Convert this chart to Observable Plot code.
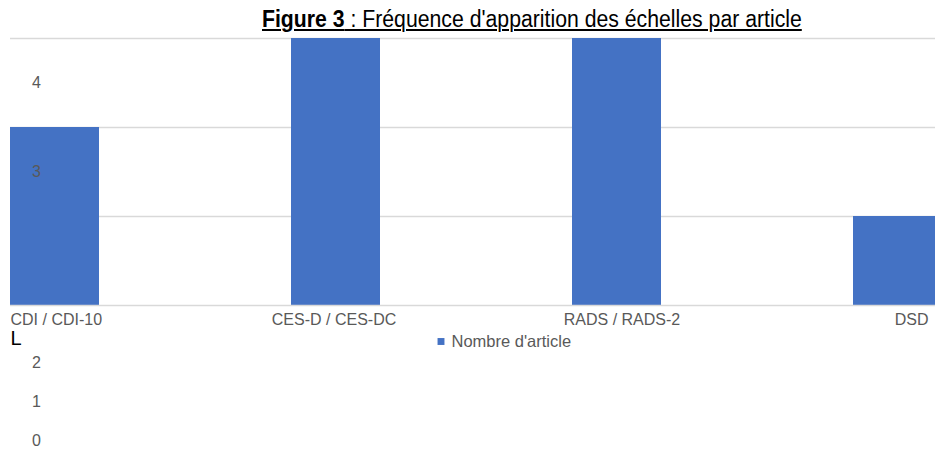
<!DOCTYPE html>
<html><head><meta charset="utf-8">
<script src="https://cdn.jsdelivr.net/npm/d3@7"></script>
<script src="https://cdn.jsdelivr.net/npm/@observablehq/plot@0.6"></script>
<style>
body{margin:0;background:#fff;}
#wrap{position:relative;width:935px;height:450px;overflow:hidden;background:#fff;}
#title{height:37px;white-space:nowrap;font-family:"Liberation Sans Narrow","Arial Narrow","Liberation Sans",sans-serif;font-size:23px;color:#000;}
#title span.t{display:inline-block;position:relative;left:262px;top:6px;transform:scaleX(0.923);transform-origin:0 0;text-decoration:underline;text-decoration-thickness:2px;text-underline-offset:2px;}
#chart svg{display:block;}
</style></head>
<body>
<div id="wrap">
  <div id="title"><span class="t"><b>Figure 3</b> : Fréquence d'apparition des échelles par article</span></div>
  <div id="chart"></div>
</div>
<script>
const categories = ["CDI / CDI-10", "CES-D / CES-DC", "RADS / RADS-2", "DSD"];
const values = [3, 5, 5, 2];
const seriesName = "Nombre d'article";
const ticksInside = [4, 3];
const ticksBelow = [2, 1, 0];
const strayText = "L";

const data = categories.map((c, i) => ({cat: c, val: values[i]}));
const gray = "#595959";
const font = "Liberation Sans, Arial, sans-serif";
const n = categories.length;
const fs = 16;

const labelMarks = categories.map((c, i) => {
  const anchor = i === 0 ? "start" : (i === n - 1 ? "end" : "middle");
  return Plot.text([c], {
    x: d => d,
    frameAnchor: "bottom",
    text: d => d,
    textAnchor: anchor,
    lineAnchor: "top",
    dy: 8.5,
    dx: i === 0 ? -44.5 : (i === n - 1 ? 30.5 : (i === 2 ? 5 : -2)),
    fontSize: fs,
    fill: gray
  });
});

const chart = Plot.plot({
  width: 935,
  height: 413,
  marginLeft: 10,
  marginRight: 0,
  marginTop: 1,
  marginBottom: 145,
  style: {fontFamily: font, background: "#fff", overflow: "hidden"},
  x: {domain: categories, range: [10, 943.5], paddingInner: 0.684, paddingOuter: 0, align: 0, axis: null},
  y: {domain: [1, 4], axis: null},
  marks: [
    Plot.ruleY([2, 3, 4], {stroke: "#d9d9d9", strokeWidth: 1.5}),
    Plot.barY(data, {x: "cat", y1: 0, y2: "val", fill: "#4472C4", clip: true}),
    Plot.ruleY([1], {stroke: "#d9d9d9", strokeWidth: 1.5}),
    Plot.text(ticksInside, {y: d => d, text: d => String(d), frameAnchor: "left", dx: 26, dy: 44, textAnchor: "middle", fontSize: fs, fill: gray}),
    ...ticksBelow.map((t, i) => Plot.text([t], {text: d => String(d), frameAnchor: "bottom-left", dx: 26, dy: 57 + i * 39, textAnchor: "middle", lineAnchor: "middle", fontSize: fs, fill: gray})),
    ...labelMarks,
    Plot.text([strayText], {text: d => d, frameAnchor: "bottom-left", dx: 0, dy: 33, textAnchor: "start", lineAnchor: "middle", fontSize: 20, fill: "#000"}),
    Plot.dot([seriesName], {frameAnchor: "bottom-left", dx: 430.5, dy: 36, symbol: "square", r: 3.9, fill: "#4472C4", stroke: "none"}),
    Plot.text([seriesName], {text: d => d, frameAnchor: "bottom-left", dx: 441, dy: 36, textAnchor: "start", lineAnchor: "middle", fontSize: fs + 0.5, fill: gray})
  ]
});
document.getElementById("chart").appendChild(chart);
</script>
</body></html>
